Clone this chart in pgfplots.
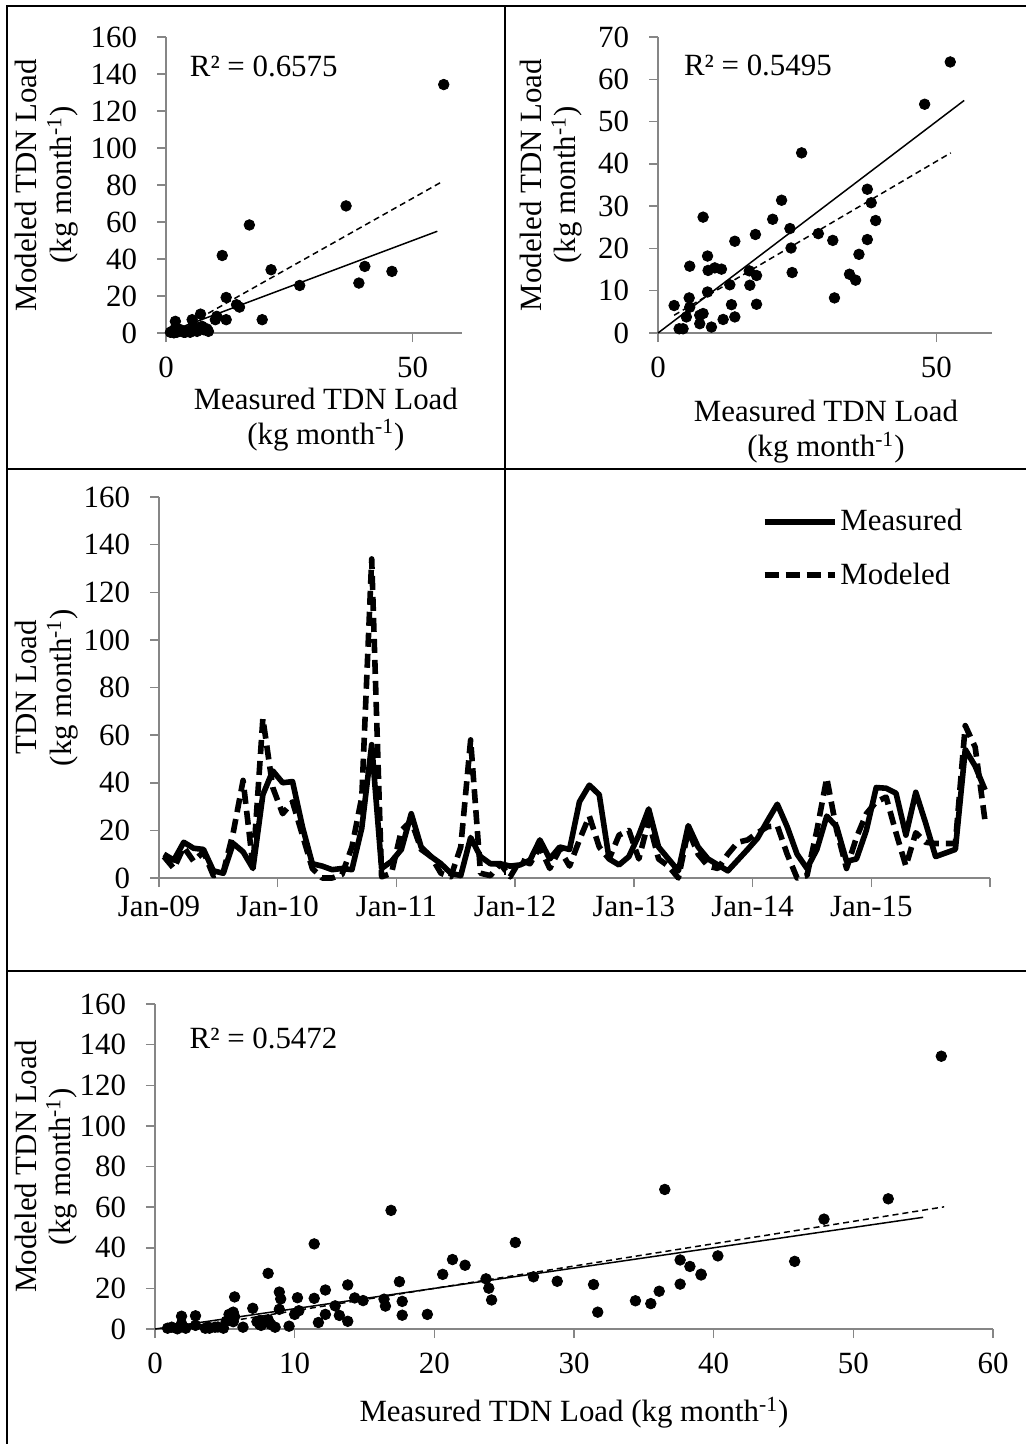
\documentclass[border=0pt]{standalone}
\usepackage{fontspec}
\setmainfont{Liberation Serif}
\usepackage{pgfplots}
\pgfplotsset{compat=1.18}
\usepackage{pgfplotstable}
\definecolor{axgray}{HTML}{868686}
\newcommand\f{\fontsize{15.5}{17.5}\selectfont}

\pgfplotstableread{
x y
56.3 134.3
36.5 68.7
16.9 58.4
11.4 41.9
21.3 34.2
40.3 36.0
45.8 33.3
39.1 27.0
27.1 25.7
12.2 19.2
14.9 14.0
14.3 15.3
19.5 7.2
7.0 10.2
5.3 7.2
10.0 7.2
12.2 7.2
1.9 6.3
8.3 2.2
7.3 3.6
5.6 3.6
4.3 0.9
3.6 0.4
4.9 0.4
2.2 0.4
1.2 0.9
2.9 1.8
0.9 0.4
6.3 0.9
1.9 2.7
8.6 0.9
7.6 1.8
10.3 9.0
3.9 0.4
1.6 0.1
}\tl

\pgfplotstableread{
x y
52.5 64.1
47.9 54.1
25.8 42.6
37.6 34.0
38.3 30.8
39.1 26.6
22.2 31.4
20.6 26.9
23.7 24.7
28.8 23.5
31.4 21.9
37.6 22.1
36.1 18.6
23.9 20.1
17.5 23.3
13.8 21.7
8.1 27.4
8.9 18.2
9.0 14.8
10.2 15.4
11.4 15.1
5.7 15.8
24.1 14.3
16.4 14.7
17.7 13.6
12.9 11.4
16.5 11.3
8.9 9.7
5.6 8.3
34.4 13.9
35.5 12.5
31.7 8.3
13.2 6.7
17.7 6.8
2.9 6.5
5.7 6.1
5.1 3.8
8.1 4.6
7.5 2.2
11.7 3.2
13.8 3.8
9.6 1.4
3.8 1.0
4.5 1.0
7.5 4.2
}\tr

\pgfplotstableread{
t m p
0.5 10 9
1.5 7.5 4
2.5 15 13
3.5 12.5 7
4.5 12 11
5.5 3 1
6.5 2 2.5
7.5 14.5 19
8.5 11 41
9.5 4 5
10.5 35 67
11.5 45 38
12.5 40 27
13.5 40.5 32
14.5 21.5 18
15.5 6 4
16.5 5 0
17.5 3.5 0
18.5 4 1.5
19.5 3.5 13
20.5 21 34
21.5 56 134
22.5 4 0.5
23.5 7 2
24.5 12 20
25.5 27 24
26.5 13 12
27.5 9 9
28.5 6 2
29.5 2 0.5
30.5 1 13
31.5 17 58
32.5 9 2
33.5 6 1
34.5 6 6
35.5 5 0.5
36.5 5.5 7.5
37.5 7.5 6
38.5 16 13
39.5 8 4
40.5 13 12
41.5 12 5
42.5 32 16
43.5 39 26
44.5 35 13
45.5 8 8
46.5 5.5 18
47.5 9 20
48.5 18 8
49.5 29 24
50.5 13 8
51.5 8 5
52.5 3 0
53.5 22 20
54.5 13 10
55.5 8 5
56.5 5.5 4
57.5 3 10
58.5 7.5 15
59.5 12 16
60.5 16.7 19
61.5 24 21.5
62.5 31 22
63.5 21.5 10
64.5 10 0
65.5 4 1
66.5 12 20
67.5 26 42
68.5 21.5 20
69.5 7 4
70.5 8 17
71.5 20 27
72.5 38 32
73.5 37.7 34
74.5 35.6 19
75.5 18 5
76.5 36 19
77.5 23 15
78.5 9 14.5
79.5 10.5 14.5
80.5 12 14.5
81.5 54 64
82.5 47 55
83.5 37 24
}\ts

\pgfplotsset{
  base/.style={
    scale only axis,
    axis lines*=left,
    axis line style={axgray, line width=0.75bp},
    tick style={axgray, line width=0.75bp},
    tick align=outside,
    major tick length=4.5bp,
    /pgf/number format/assume math mode=true,
    ticklabel style={font=\f, text=black},
    yticklabel style={xshift=-6.5bp},
    label style={font=\f, align=center},
    clip=false,
  },
  xdown/.style={xticklabel style={yshift=-4bp}},
  pts/.style={only marks, mark=*, mark size=2.65bp, black},
  one/.style={black, line width=0.75bp, no marks},
  trd/.style={black, line width=0.75bp, no marks, dash pattern=on 3bp off 2bp},
}

\begin{document}
\begin{tikzpicture}
\path[use as bounding box] (0,0) rectangle (513bp,-722bp);
% frame
\draw[black, line width=0.9bp] (3.5bp,-722bp) -- (3.5bp,-3bp) -- (513bp,-3bp);
\draw[black, line width=0.9bp] (3.5bp,-234.5bp) -- (513bp,-234.5bp);
\draw[black, line width=0.9bp] (3.5bp,-485.5bp) -- (513bp,-485.5bp);
\draw[black, line width=0.9bp] (252.5bp,-3bp) -- (252.5bp,-437.5bp);

% top-left
\begin{axis}[base, xdown, at={(83bp,-166.5bp)}, anchor=south west,
  width=148bp, height=148bp,
  xmin=0, xmax=60, ymin=0, ymax=160,
  xtick={0,50}, ytick={0,20,...,160},
  xlabel={Measured TDN Load\\(kg month\textsuperscript{-1})},
  ylabel={Modeled TDN Load\\(kg month\textsuperscript{-1})},
  xlabel style={at={(axis description cs:0.54,-0.292)}, anchor=center},
  ylabel style={at={(axis description cs:-0.402,0.5)}, anchor=center},
]
\addplot[pts] table {\tl};
\addplot[one] coordinates {(0,0) (55,55)};
\addplot[trd] coordinates {(1.5,0.05) (56.1,82.0)};
\node[anchor=west, font=\f] at (axis description cs:0.057,0.902) {R² = 0.6575};
\end{axis}

% top-right
\begin{axis}[base, xdown, at={(329bp,-166.5bp)}, anchor=south west,
  width=167bp, height=148bp,
  xmin=0, xmax=60, ymin=0, ymax=70,
  xtick={0,50}, ytick={0,10,...,70},
  xlabel={Measured TDN Load\\(kg month\textsuperscript{-1})},
  ylabel={Modeled TDN Load\\(kg month\textsuperscript{-1})},
  xlabel style={at={(axis description cs:0.503,-0.334)}, anchor=center},
  ylabel style={at={(axis description cs:-0.32,0.5)}, anchor=center},
]
\addplot[pts] table {\tr};
\addplot[one] coordinates {(0,0) (55,55)};
\addplot[trd] coordinates {(2.9,4.2) (52.6,42.6)};
\node[anchor=west, font=\f] at (axis description cs:0.057,0.905) {R² = 0.5495};
\end{axis}

% time series
\begin{axis}[base, at={(79.5bp,-439bp)}, anchor=south west,
  width=415.5bp, height=190.5bp,
  xmin=0, xmax=84, ymin=0, ymax=160,
  xtick={0,12,...,84},
  xticklabels={Jan-09,Jan-10,Jan-11,Jan-12,Jan-13,Jan-14,Jan-15,{}},
  xticklabel style={yshift=-1bp},
  ytick={0,20,...,160},
  ylabel={TDN Load\\(kg month\textsuperscript{-1})},
  ylabel style={at={(axis description cs:-0.135,0.5)}, anchor=center},
  legend style={draw=none, fill=none, at={(axis description cs:0.725,0.976)}, anchor=north west,
    font=\f, row sep=11.5bp, inner sep=0pt, nodes={inner sep=1.5bp}},
  legend cell align=left,
  legend image code/.code={\draw[#1] (0bp,0bp) -- (35bp,0bp);},
]
\addplot[black, line width=2.8bp, line join=round] table[x=t, y=m] {\ts};
\addlegendentry{Measured}
\addplot[black, line width=2.8bp, line join=round, dash pattern=on 7bp off 3.5bp] table[x=t, y=p] {\ts};
\addlegendentry{Modeled}
\end{axis}

% bottom
\begin{axis}[base, xdown, at={(77.5bp,-664.5bp)}, anchor=south west,
  width=419bp, height=162.5bp,
  xmin=0, xmax=60, ymin=0, ymax=160,
  xtick={0,10,...,60}, ytick={0,20,...,160},
  xlabel={Measured TDN Load (kg month\textsuperscript{-1})},
  ylabel={Modeled TDN Load\\(kg month\textsuperscript{-1})},
  xlabel style={at={(axis description cs:0.5,-0.258)}, anchor=center},
  ylabel style={at={(axis description cs:-0.130,0.5)}, anchor=center},
]
\addplot[pts] table {\tl};
\addplot[pts] table {\tr};
\addplot[one] coordinates {(0,0) (55,55)};
\addplot[trd] coordinates {(1.9,0.09) (56.5,60.15)};
\node[anchor=west, font=\f] at (axis description cs:0.033,0.895) {R² = 0.5472};
\end{axis}
\end{tikzpicture}
\end{document}
